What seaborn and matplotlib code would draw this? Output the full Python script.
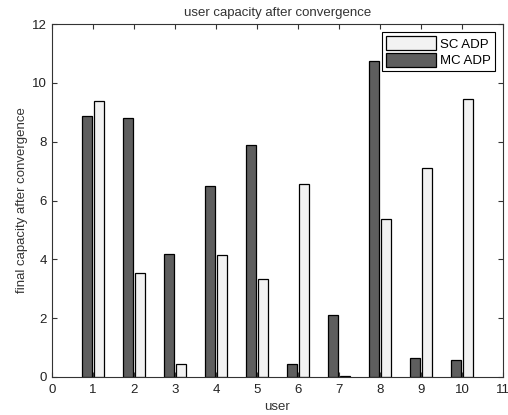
import matplotlib
matplotlib.use("Agg")
import matplotlib.pyplot as plt
import pandas as pd
import seaborn as sns

users = [1, 2, 3, 4, 5, 6, 7, 8, 9, 10]
mc_adp = [8.89, 8.81, 4.18, 6.48, 7.90, 0.43, 2.10, 10.76, 0.63, 0.59]
sc_adp = [9.39, 3.54, 0.45, 4.15, 3.34, 6.55, 0.04, 5.37, 7.11, 9.46]
series = ["MC ADP", "SC ADP"]
colors = {"MC ADP": "#5e5e5e", "SC ADP": "#f2f2f2"}

df = pd.DataFrame({
    "user": users * 2,
    "capacity": mc_adp + sc_adp,
    "method": ["MC ADP"] * len(users) + ["SC ADP"] * len(users),
})

plt.rcParams["font.family"] = ["Liberation Sans", "DejaVu Sans"]
fs = 9.5

fig = plt.figure(figsize=(5.08, 4.15), dpi=100)
ax = fig.add_axes([0.1024, 0.0916, 0.8876, 0.8504])

sns.barplot(data=df, x="user", y="capacity", hue="method", hue_order=series,
            palette=colors, native_scale=True, width=0.56, gap=0.12,
            saturation=1, edgecolor="black", linewidth=0.9, ax=ax)

ax.set_xlim(0, 11)
ax.set_ylim(0, 12)
ax.set_xticks(range(0, 12))
ax.set_yticks(range(0, 13, 2))
ax.tick_params(direction="in", length=3.5, top=True, right=True, width=0.8,
               labelsize=fs, colors="#333333", labelcolor="#222222")
ax.tick_params(axis="x", pad=5)
for s in ax.spines.values():
    s.set_linewidth(0.8)
    s.set_color("#333333")

ax.set_xlabel("user", fontsize=fs, color="#333333", labelpad=4)
ax.set_ylabel("final capacity after convergence", fontsize=fs, color="#333333", labelpad=3)
ax.set_title("user capacity after convergence", fontsize=fs, color="#333333", pad=6)

handles, labels = ax.get_legend_handles_labels()
leg = ax.legend(handles[::-1], labels[::-1], loc="upper right", fontsize=fs,
                handlelength=3.8, handleheight=1.3, fancybox=False,
                framealpha=1, edgecolor="black", borderpad=0.3,
                labelspacing=0.15, handletextpad=0.3, borderaxespad=0.6)
leg.get_frame().set_linewidth(0.8)

fig.savefig("out.png", dpi=100)
